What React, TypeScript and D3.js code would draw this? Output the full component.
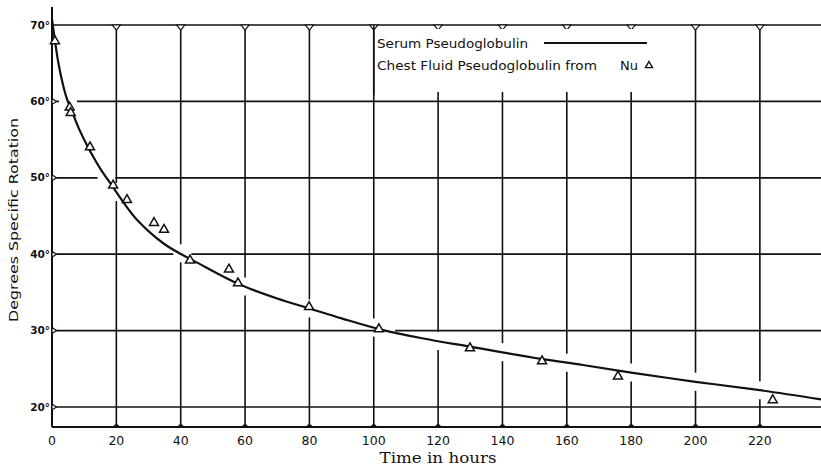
import React from "react";
import * as d3 from "d3";

const xTicks = [0, 20, 40, 60, 80, 100, 120, 140, 160, 180, 200, 220];
const yTicks = [20, 30, 40, 50, 60, 70];

// Serum Pseudoglobulin (smooth curve)
const serumHours = [0, 0.5, 1, 2, 3.4, 4.5, 6.2, 8.5, 11.2, 15, 18.6, 22, 26.4, 35, 46, 58, 70, 80, 90, 101.6, 115, 130, 152, 165, 180, 200, 220, 239];
const serumRotation = [70.8, 69.2, 67.7, 65, 62.2, 60.5, 58.7, 56.3, 54, 51.2, 49, 46.9, 44.5, 41.3, 38.7, 36.1, 34.2, 32.9, 31.6, 30.2, 29.0, 27.9, 26.3, 25.5, 24.5, 23.3, 22.2, 21.0];

// Chest Fluid Pseudoglobulin from Nu (triangles)
const chestHours = [0.9, 5.5, 5.8, 11.8, 19.0, 23.3, 31.7, 34.8, 42.9, 55.0, 57.8, 79.9, 101.6, 129.9, 152.3, 175.9, 224.0];
const chestRotation = [68.0, 59.3, 58.6, 54.1, 49.1, 47.2, 44.2, 43.3, 39.3, 38.1, 36.3, 33.2, 30.3, 27.8, 26.1, 24.1, 21.0];

const W = 821;
const H = 468;

export default function App() {
  const x = d3.scaleLinear().domain([0, 239]).range([52, 821]);
  const y = d3.scaleLinear().domain([20, 70]).range([407, 25]);
  const yBottom = 427;
  const yTopAxis = 7;

  const serum = serumHours.map((h, i) => [h, serumRotation[i]] as [number, number]);
  const chest = chestHours.map((h, i) => [h, chestRotation[i]] as [number, number]);

  const line = d3
    .line<[number, number]>()
    .x((d) => x(d[0]))
    .y((d) => y(d[1]))
    .curve(d3.curveCatmullRom.alpha(0.5));

  const curveAt = (h: number) => {
    for (let i = 0; i < serum.length - 1; i++) {
      const [h0, v0] = serum[i];
      const [h1, v1] = serum[i + 1];
      if (h >= h0 && h <= h1) return v0 + ((v1 - v0) * (h - h0)) / (h1 - h0);
    }
    return NaN;
  };
  const hourAt = (v: number) => {
    for (let i = 0; i < serum.length - 1; i++) {
      const [h0, v0] = serum[i];
      const [h1, v1] = serum[i + 1];
      if (v <= v0 && v >= v1) return h0 + ((h1 - h0) * (v0 - v)) / (v0 - v1);
    }
    return NaN;
  };

  const gap = 9;
  const stroke = "#111";

  const verticals = xTicks.filter((t) => t > 0).map((t) => {
    const top = t >= 120 && t <= 180 ? 92 : y(70);
    const cy = y(curveAt(t));
    const px = x(t);
    const segs: [number, number][] = [];
    if (!isNaN(cy) && cy > top && cy < yBottom) {
      segs.push([top, cy - gap]);
      segs.push([cy + gap, yBottom]);
    } else segs.push([top, yBottom]);
    return { t, px, segs };
  });

  const horizontals = yTicks.map((v) => {
    const py = y(v);
    const h = hourAt(v);
    const cx = isNaN(h) ? NaN : x(h);
    const segs: [number, number][] = [];
    if (!isNaN(cx) && cx > 58) {
      segs.push([x(0), cx - gap]);
      segs.push([cx + gap, W]);
    } else segs.push([x(0), W]);
    return { v, py, segs };
  });

  const tri = (cx: number, cy: number, s = 4.5) =>
    `M${cx},${cy - s} L${cx + s},${cy + s * 0.75} L${cx - s},${cy + s * 0.75} Z`;

  return (
    <svg
      width={W}
      height={H}
      style={{ position: "absolute", left: 0, top: 0, background: "#fff" }}
    >
      <rect x={0} y={0} width={W} height={H} fill="#fff" />
      {/* horizontal grid */}
      {horizontals.map((hz) =>
        hz.segs.map((s, i) => (
          <line key={`h${hz.v}-${i}`} x1={s[0]} x2={s[1]} y1={hz.py} y2={hz.py} stroke={stroke} strokeWidth={1.7} />
        ))
      )}
      {/* vertical grid */}
      {verticals.map((vt) =>
        vt.segs.map((s, i) => (
          <line key={`v${vt.t}-${i}`} x1={vt.px} x2={vt.px} y1={s[0]} y2={s[1]} stroke={stroke} strokeWidth={1.6} />
        ))
      )}
      {/* top markers */}
      {verticals.map((vt) => (
        <g key={`tm${vt.t}`}>
          <path
            d={`M${vt.px - 4},${y(70)} L${vt.px + 4},${y(70)} L${vt.px},${y(70) + 5} Z`}
            fill="#fff"
            stroke={stroke}
            strokeWidth={1.2}
          />
          {(vt.t === 160 || vt.t === 180) && (
            <line x1={vt.px} x2={vt.px} y1={y(70) + 5} y2={y(70) + 11} stroke={stroke} strokeWidth={1.3} />
          )}
        </g>
      ))}
      {/* bottom markers */}
      {verticals.map((vt) => (
        <path
          key={`bm${vt.t}`}
          d={`M${vt.px - 3.5},${yBottom} Q${vt.px},${yBottom - 6} ${vt.px + 3.5},${yBottom} Z`}
          fill={stroke}
        />
      ))}
      {/* axes */}
      <line x1={x(0)} x2={x(0)} y1={yTopAxis} y2={yBottom} stroke={stroke} strokeWidth={2} />
      <line x1={x(0)} x2={W} y1={yBottom} y2={yBottom} stroke={stroke} strokeWidth={2} />
      {/* y-axis markers */}
      {yTicks.filter((v) => v < 70).map((v) => (
        <path
          key={`ym${v}`}
          d={`M${x(0)},${y(v) - 3} L${x(0) + 4.5},${y(v)} L${x(0)},${y(v) + 3} Z`}
          fill="#fff"
          stroke={stroke}
          strokeWidth={1.2}
        />
      ))}
      {/* y tick labels */}
      {yTicks.map((v) => (
        <text
          key={`yl${v}`}
          x={50}
          y={y(v)}
          dy="0.35em"
          textAnchor="end"
          fontFamily="DejaVu Sans"
          fontWeight="bold"
          fontSize={10.5}
          fill={stroke}
        >
          {`${v}°`}
        </text>
      ))}
      {/* x tick labels */}
      {xTicks.map((t) => (
        <text
          key={`xl${t}`}
          x={x(t)}
          y={445}
          textAnchor="middle"
          fontFamily="DejaVu Sans"
          fontSize={12.5}
          fill={stroke}
        >
          {t}
        </text>
      ))}
      {/* x title */}
      <text x={438} y={463} textAnchor="middle" fontFamily="DejaVu Serif" fontSize={14.5} textLength={117} lengthAdjust="spacingAndGlyphs" fill={stroke}>
        Time in hours
      </text>
      {/* y title */}
      <text
        transform={`translate(18,220) rotate(-90)`}
        textAnchor="middle"
        fontFamily="DejaVu Sans"
        fontSize={12.5}
        textLength={204}
        lengthAdjust="spacingAndGlyphs"
        fill={stroke}
      >
        Degrees Specific Rotation
      </text>
      {/* curve */}
      <path d={line(serum) || ""} fill="none" stroke={stroke} strokeWidth={2.2} />
      {/* triangles */}
      {chest.map((d, i) => (
        <path key={`t${i}`} d={tri(x(d[0]), y(d[1]))} fill="#fff" stroke={stroke} strokeWidth={1.5} />
      ))}
      {/* legend */}
      <rect x={375} y={29} width={280} height={58} fill="#fff" />
      <line x1={x(100)} x2={x(100)} y1={y(70)} y2={95} stroke={stroke} strokeWidth={1.6} />
      <text x={377} y={48} fontFamily="DejaVu Sans" fontSize={13} textLength={151} lengthAdjust="spacingAndGlyphs" fill={stroke}>
        Serum Pseudoglobulin
      </text>
      <line x1={544} x2={647} y1={43} y2={43} stroke={stroke} strokeWidth={1.8} />
      <text x={377} y={70} fontFamily="DejaVu Sans" fontSize={13} textLength={220} lengthAdjust="spacingAndGlyphs" fill={stroke}>
        Chest Fluid Pseudoglobulin from
      </text>
      <text x={620} y={70} fontFamily="DejaVu Sans" fontSize={13} fill={stroke}>
        Nu
      </text>
      <path d={tri(649, 65, 3.5)} fill="#fff" stroke={stroke} strokeWidth={1.4} />
    </svg>
  );
}
